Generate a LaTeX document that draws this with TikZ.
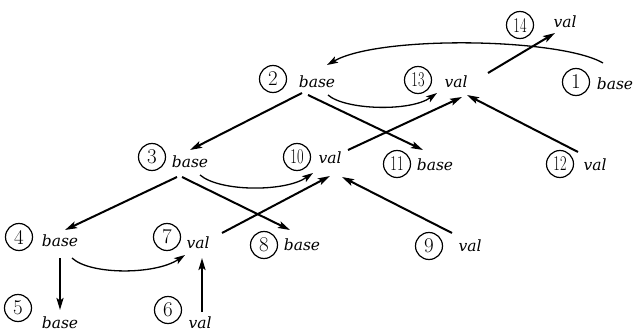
\documentclass[tikz,border=0pt]{standalone}
\usepackage{fontspec}
\newfontfamily\lblfont{DejaVu Serif}
\usetikzlibrary{arrows.meta}
\begin{document}
\begin{tikzpicture}[x=1pt,y=-1pt,
  num/.style={circle,draw,line width=1.2pt,minimum size=27pt,inner sep=0pt,font=\fontsize{21}{21}\selectfont},
  lbl/.style={inner sep=0pt,font=\lblfont\itshape\fontsize{15.5}{15.5}\selectfont},
  arr/.style={line width=2pt,-{Stealth[length=12pt,width=7pt,inset=2.5pt]}},
  carr/.style={line width=1.3pt,-{Stealth[length=11pt,width=7pt,inset=2.5pt]}}]
\useasboundingbox (0,0) rectangle (635,334);
% circled numbers
\node[num] (c14) at (520,25) {\scalebox{0.68}[1]{14}};
\node[num] (c2)  at (273,79) {2};
\node[num] (c13) at (418,80) {\scalebox{0.68}[1]{13}};
\node[num] (c1)  at (576,82) {1};
\node[num] (c3)  at (152,157) {3};
\node[num] (c10) at (297,157) {\scalebox{0.68}[1]{10}};
\node[num] (c11) at (397,164) {\scalebox{0.68}[1]{11}};
\node[num] (c12) at (560,164) {\scalebox{0.68}[1]{12}};
\node[num] (c4)  at (19,237) {4};
\node[num] (c7)  at (167,237) {7};
\node[num] (c8)  at (264,245) {8};
\node[num] (c9)  at (429,246) {9};
\node[num] (c5)  at (18,308) {5};
\node[num] (c6)  at (168,310) {6};
% labels
\node[lbl] (v14) at (565,22) {val};
\node[lbl] (b2)  at (317,82) {base};
\node[lbl] (v13) at (456,82) {val};
\node[lbl] (b1)  at (615,84) {base};
\node[lbl] (b3)  at (190,162) {base};
\node[lbl] (v10) at (330,158) {val};
\node[lbl] (b11) at (435,165) {base};
\node[lbl] (v12) at (595,165) {val};
\node[lbl] (b4)  at (60,241) {base};
\node[lbl] (v7)  at (198,243) {val};
\node[lbl] (b8)  at (302,245) {base};
\node[lbl] (v9)  at (470,246) {val};
\node[lbl] (b5)  at (60,323) {base};
\node[lbl] (v6)  at (200,323) {val};
% curved arrows
\draw[carr] ([shift={(-12,-21)}]b1.center) .. controls ([shift={(-55,-46)}]b1.center) and ([shift={(63,-47)}]b2.center) .. ([shift={(10,-17)}]b2.center);
\draw[carr] ([shift={(11,13)}]b2.center) .. controls ([shift={(28,28)}]b2.center) and ([shift={(-46,30)}]v13.center) .. ([shift={(-19,11)}]v13.center);
\draw[carr] ([shift={(10,13)}]b3.center) .. controls ([shift={(30,30)}]b3.center) and ([shift={(-45,34)}]v10.center) .. ([shift={(-17,15)}]v10.center);
\draw[carr] ([shift={(12,17)}]b4.center) .. controls ([shift={(30,34)}]b4.center) and ([shift={(-43,32)}]v7.center) .. ([shift={(-13,12)}]v7.center);
% straight arrows
\draw[arr] ([shift={(32,-9)}]v13.center) -- ([shift={(-10,11)}]v14.center);
\draw[arr] ([shift={(-17,-13)}]v12.center) -- ([shift={(11,13)}]v13.center);
\draw[arr] ([shift={(-15,11)}]b2.center) -- ([shift={(0,-12)}]b3.center);
\draw[arr] ([shift={(-9,13)}]b2.center) -- ([shift={(-12,-15)}]b11.center);
\draw[arr] ([shift={(18,-8)}]v10.center) -- ([shift={(6,15)}]v13.center);
\draw[arr] ([shift={(-13,15)}]b3.center) -- ([shift={(5,-11)}]b4.center);
\draw[arr] ([shift={(-8,15)}]b3.center) -- ([shift={(-12,-15)}]b8.center);
\draw[arr] ([shift={(24,-10)}]v7.center) -- ([shift={(0,18)}]v10.center);
\draw[arr] ([shift={(-18,-13)}]v9.center) -- ([shift={(12,19)}]v10.center);
\draw[arr] ([shift={(0,17)}]b4.center) -- ([shift={(0,-13)}]b5.center);
\draw[arr] ([shift={(2,-11)}]v6.center) -- ([shift={(4,15)}]v7.center);
\end{tikzpicture}
\end{document}
